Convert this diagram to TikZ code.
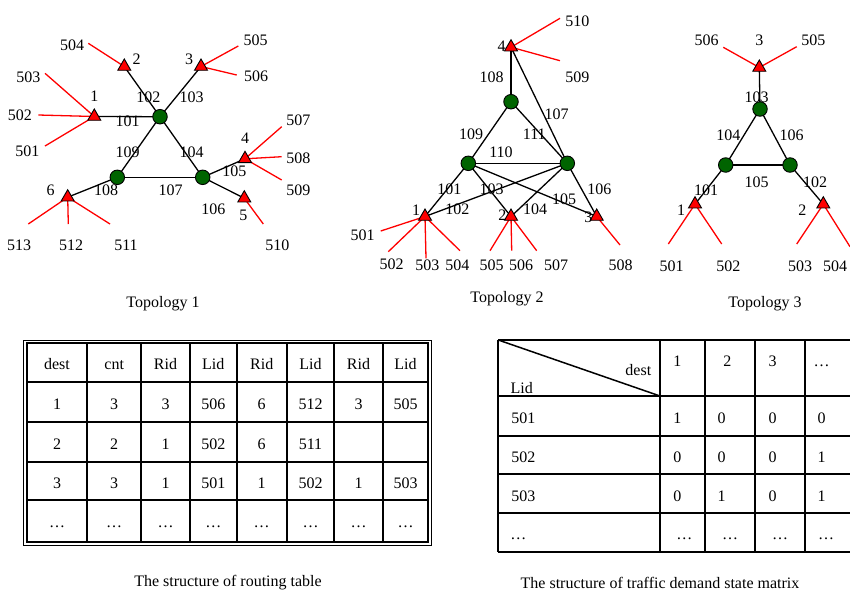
\documentclass[tikz,border=0pt]{standalone}
\usepackage{fontspec}
\setmainfont{Liberation Serif}
\usetikzlibrary{shapes.geometric,backgrounds}
\definecolor{routergreen}{RGB}{0,100,0}
\newcommand{\labfont}{\fontsize{16}{19}\selectfont}
\pgfdeclarelayer{paper}
\pgfsetlayers{paper,background,main}

\begin{document}
\begin{tikzpicture}[x=1pt,y=-1pt,
  host/.style={regular polygon, regular polygon sides=3, draw=black, fill=red,
    minimum size=15, inner sep=0, line width=0.9},
  router/.style={circle, draw=black, fill=routergreen, minimum size=14.5,
    inner sep=0, line width=0.9},
  link/.style={line width=1.3, black},
  access/.style={line width=1.3, red},
  lab/.style={font=\labfont, inner sep=0},
  cell/.style={font=\labfont, inner sep=0, anchor=base},
  gridline/.style={line width=1.8},
]
\clip (0,0) rectangle (850,595);
\begin{pgfonlayer}{paper}
  \fill[white] (0,0) rectangle (850,595);
\end{pgfonlayer}

% ---------------- Topology 1 ----------------
\node[router] (a1) at (160,116.7) {};
\node[router] (b1) at (117.3,177.3) {};
\node[router] (c1) at (202.7,177.3) {};
\node[host] (h11) at (94.3,116.5) {};
\node[host] (h12) at (124.3,66.5) {};
\node[host] (h13) at (201,66.5) {};
\node[host] (h14) at (245,158.8) {};
\node[host] (h15) at (244.3,198.2) {};
\node[host] (h16) at (67.7,197.2) {};

\coordinate (e1-504) at (88.3,43.3);
\coordinate (e1-503) at (45,73.3);
\coordinate (e1-502) at (38.3,115);
\coordinate (e1-501) at (45,146);
\coordinate (e1-505) at (238.3,46);
\coordinate (e1-506) at (236.7,75);
\coordinate (e1-507) at (281.7,126.7);
\coordinate (e1-508) at (281.7,156.7);
\coordinate (e1-509) at (281.7,180);
\coordinate (e1-510) at (263.3,224);
\coordinate (e1-513) at (28.3,224);
\coordinate (e1-512) at (68.3,224);
\coordinate (e1-511) at (110,224);

\begin{scope}[on background layer]
  \draw[link] (h11.center) -- (a1.center);
  \draw[link] (a1.center) -- (h12.center);
  \draw[link] (a1.center) -- (h13.center);
  \draw[link] (a1.center) -- (c1.center);
  \draw[link] (c1.center) -- (h14.center);
  \draw[link] (c1.center) -- (h15.center);
  \draw[link] (b1.center) -- (c1.center);
  \draw[link] (b1.center) -- (h16.center);
  \draw[link] (a1.center) -- (b1.center);
  \draw[access] (h12.center) -- (e1-504);
  \draw[access] (h11.center) -- (e1-503);
  \draw[access] (h11.center) -- (e1-502);
  \draw[access] (h11.center) -- (e1-501);
  \draw[access] (h13.center) -- (e1-505);
  \draw[access] (h13.center) -- (e1-506);
  \draw[access] (h14.center) -- (e1-507);
  \draw[access] (h14.center) -- (e1-508);
  \draw[access] (h14.center) -- (e1-509);
  \draw[access] (h15.center) -- (e1-510);
  \draw[access] (h16.center) -- (e1-513);
  \draw[access] (h16.center) -- (e1-512);
  \draw[access] (h16.center) -- (e1-511);
\end{scope}

\node[lab] (l1-504) at (72,45) {504};
\node[lab] (l1-503) at (28.3,77.3) {503};
\node[lab] (l1-502) at (20,115.7) {502};
\node[lab] (l1-501) at (27.3,151.7) {501};
\node[lab] (l1-505) at (255.7,40) {505};
\node[lab] (l1-506) at (256,76.7) {506};
\node[lab] (l1-507) at (298.3,120) {507};
\node[lab] (l1-508) at (298.3,158.3) {508};
\node[lab] (l1-509) at (298.3,190) {509};
\node[lab] (l1-510) at (277.3,245.7) {510};
\node[lab] (l1-513) at (19,245.7) {513};
\node[lab] (l1-512) at (71,245.7) {512};
\node[lab] (l1-511) at (126,245.7) {511};

\node[lab] (n1-2) at (136.7,59.3) {2};
\node[lab] (n1-3) at (189,59.3) {3};
\node[lab] (n1-1) at (94.3,96.7) {1};
\node[lab] (n1-4) at (245,138.3) {4};
\node[lab] (n1-5) at (243.3,215) {5};
\node[lab] (n1-6) at (50.7,190) {6};

\node[lab] (k1-101) at (127.7,121.7) {101};
\node[lab] (k1-102) at (148.3,97.3) {102};
\node[lab] (k1-103) at (191.7,97.3) {103};
\node[lab] (k1-109) at (127.7,152.7) {109};
\node[lab] (k1-104) at (191.7,152.7) {104};
\node[lab] (k1-105) at (234.3,171.7) {105};
\node[lab] (k1-107) at (170.7,190) {107};
\node[lab] (k1-108) at (106,190) {108};
\node[lab] (k1-106) at (213.3,209.3) {106};

\node[lab] (cap1) at (163,304) {Topology 1};

% ---------------- Topology 2 ----------------
\node[router] (g21) at (511,101.7) {};
\node[router] (g22) at (468.3,163.3) {};
\node[router] (g23) at (567.3,163.3) {};
\node[host] (h24) at (511,47.2) {};
\node[host] (h21) at (425,216.5) {};
\node[host] (h22) at (511,216.5) {};
\node[host] (h23) at (596.7,216.5) {};

\coordinate (e2-510) at (560,18.3);
\coordinate (e2-509) at (560,60.7);
\coordinate (e2-501) at (380.7,231);
\coordinate (e2-502) at (388.3,251.7);
\coordinate (e2-503) at (426,258.3);
\coordinate (e2-504) at (460,250.7);
\coordinate (e2-505) at (490,250.7);
\coordinate (e2-506) at (511.7,250.7);
\coordinate (e2-507) at (536.7,250.7);
\coordinate (e2-508) at (620,245);

\begin{scope}[on background layer]
  \draw[link] (h24.center) -- (g21.center);
  \draw[link] (h24.center) -- (g23.center);
  \draw[link] (g21.center) -- (g22.center);
  \draw[link] (g21.center) -- (g23.center);
  \draw[link] (g22.center) -- (g23.center);
  \draw[link] (g22.center) -- (h21.center);
  \draw[link] (g23.center) -- (h21.center);
  \draw[link] (g22.center) -- (h22.center);
  \draw[link] (g23.center) -- (h22.center);
  \draw[link] (g22.center) -- (h23.center);
  \draw[link] (g23.center) -- (h23.center);
  \draw[access] (h24.center) -- (e2-510);
  \draw[access] (h24.center) -- (e2-509);
  \draw[access] (h21.center) -- (e2-501);
  \draw[access] (h21.center) -- (e2-502);
  \draw[access] (h21.center) -- (e2-503);
  \draw[access] (h21.center) -- (e2-504);
  \draw[access] (h22.center) -- (e2-505);
  \draw[access] (h22.center) -- (e2-506);
  \draw[access] (h22.center) -- (e2-507);
  \draw[access] (h23.center) -- (e2-508);
\end{scope}

\node[lab] (l2-510) at (577.3,21.7) {510};
\node[lab] (l2-509) at (577.3,77.3) {509};
\node[lab] (l2-501) at (362.7,235) {501};
\node[lab] (l2-502) at (391.7,264.3) {502};
\node[lab] (l2-503) at (427.3,265) {503};
\node[lab] (l2-504) at (457.3,265) {504};
\node[lab] (l2-505) at (491.7,265) {505};
\node[lab] (l2-506) at (521,265) {506};
\node[lab] (l2-507) at (556,265) {507};
\node[lab] (l2-508) at (620.7,265) {508};

\node[lab] (n2-4) at (501.7,46.7) {4};
\node[lab] (n2-1) at (416,210.7) {1};
\node[lab] (n2-2) at (502.3,215) {2};
\node[lab] (n2-3) at (588.3,217) {3};

\node[lab] (k2-108) at (491.7,77.3) {108};
\node[lab] (k2-107) at (556.7,114) {107};
\node[lab] (k2-109) at (471,134) {109};
\node[lab] (k2-111) at (534.3,134) {111};
\node[lab] (k2-110) at (501,152.3) {110};
\node[lab] (k2-101) at (449.3,189.3) {101};
\node[lab] (k2-102) at (457.3,209.3) {102};
\node[lab] (k2-103) at (491.7,189.3) {103};
\node[lab] (k2-104) at (535,209.3) {104};
\node[lab] (k2-105) at (564,199.3) {105};
\node[lab] (k2-106) at (599.3,189.3) {106};

\node[lab] (cap2) at (507,299) {Topology 2};

% ---------------- Topology 3 ----------------
\node[router] (g31) at (760,109) {};
\node[router] (g32) at (725.7,165) {};
\node[router] (g33) at (790,165) {};
\node[host] (h33) at (759.3,67.5) {};
\node[host] (h31) at (695,204.2) {};
\node[host] (h32) at (823.3,204.2) {};

\coordinate (e3-506) at (723.3,47.3);
\coordinate (e3-505) at (796.7,46.7);
\coordinate (e3-501) at (668.3,244);
\coordinate (e3-502) at (721.7,244);
\coordinate (e3-503) at (796.7,244);
\coordinate (e3-504) at (850,246.7);

\begin{scope}[on background layer]
  \draw[link] (h33.center) -- (g31.center);
  \draw[link] (g31.center) -- (g32.center);
  \draw[link] (g31.center) -- (g33.center);
  \draw[link] (g32.center) -- (g33.center);
  \draw[link] (g32.center) -- (h31.center);
  \draw[link] (g33.center) -- (h32.center);
  \draw[access] (h33.center) -- (e3-506);
  \draw[access] (h33.center) -- (e3-505);
  \draw[access] (h31.center) -- (e3-501);
  \draw[access] (h31.center) -- (e3-502);
  \draw[access] (h32.center) -- (e3-503);
  \draw[access] (h32.center) -- (e3-504);
\end{scope}

\node[lab] (l3-506) at (706.7,40.7) {506};
\node[lab] (l3-505) at (813.3,40.7) {505};
\node[lab] (l3-501) at (671.7,266) {501};
\node[lab] (l3-502) at (728.3,266) {502};
\node[lab] (l3-503) at (800,266) {503};
\node[lab] (l3-504) at (835,266) {504};

\node[lab] (n3-3) at (759.3,40.7) {3};
\node[lab] (n3-1) at (681,210) {1};
\node[lab] (n3-2) at (802.3,210) {2};

\node[lab] (k3-103) at (756.7,97.3) {103};
\node[lab] (k3-104) at (728.3,135) {104};
\node[lab] (k3-106) at (791.7,135) {106};
\node[lab] (k3-105) at (756.7,182.3) {105};
\node[lab] (k3-101) at (706,190.7) {101};
\node[lab] (k3-102) at (815,182.3) {102};

\node[lab] (cap3) at (765,304) {Topology 3};

% ---------------- Routing table ----------------
\draw[line width=1] (23.3,340) rectangle (431.7,545);
\draw[gridline] (26.7,343.3) rectangle (428.3,541.7);
\foreach \x in {87.3,141,190,236.7,286.7,334.3,382.7}
  \draw[gridline] (\x,343.3) -- (\x,541.7);
\foreach \y in {382.3,421.7,461.7,500}
  \draw[gridline] (26.7,\y) -- (428.3,\y);

\foreach \t/\x [count=\c] in {dest/57,cnt/114.2,Rid/165.5,Lid/213.3,Rid/261.7,Lid/310.5,Rid/358.5,Lid/405.5}
  \node[cell] (rt-0-\c) at (\x,369.8) {\t};
\foreach \t/\x [count=\c] in {1/57,3/114.2,3/165.5,506/213.3,6/261.7,512/310.5,3/358.5,505/405.5}
  \node[cell] (rt-1-\c) at (\x,409.5) {\t};
\foreach \t/\x [count=\c] in {2/57,2/114.2,1/165.5,502/213.3,6/261.7,511/310.5}
  \node[cell] (rt-2-\c) at (\x,449.2) {\t};
\foreach \t/\x [count=\c] in {3/57,3/114.2,1/165.5,501/213.3,1/261.7,502/310.5,1/358.5,503/405.5}
  \node[cell] (rt-3-\c) at (\x,488.3) {\t};
\foreach \x [count=\c] in {57,114.2,165.5,213.3,261.7,310.5,358.5,405.5}
  \node[cell] (rt-4-\c) at (\x,527.8) {…};

\node[lab] (cap4) at (228,583) {The structure of routing table};

% ---------------- Traffic demand state matrix ----------------
\draw[gridline] (498.3,340) -- (870,340);
\draw[gridline] (498.3,551.7) -- (870,551.7);
\draw[gridline] (498.3,340) -- (498.3,551.7);
\foreach \x in {660,705,755,805}
  \draw[gridline] (\x,340) -- (\x,551.7);
\foreach \y in {396,436,474.3,513.3}
  \draw[gridline] (498.3,\y) -- (870,\y);
\draw[line width=1.5] (498.3,340) -- (660,396);

\node[cell] (tm-dest) at (638.3,375.5) {dest};
\node[cell] (tm-lid) at (521.7,393.5) {Lid};
\foreach \t/\x [count=\c] in {1/677.3,2/727.3,3/772.7,…/821.7}
  \node[cell] (tm-0-\c) at (\x,366) {\t};
\foreach \t/\x [count=\c] in {501/523.3,1/677.3,0/721.7,0/772.7,0/821.7}
  \node[cell] (tm-1-\c) at (\x,423) {\t};
\foreach \t/\x [count=\c] in {502/523.3,0/677.3,0/721.7,0/772.7,1/821.7}
  \node[cell] (tm-2-\c) at (\x,462) {\t};
\foreach \t/\x [count=\c] in {503/523.3,0/677.3,1/721.7,0/772.7,1/821.7}
  \node[cell] (tm-3-\c) at (\x,501) {\t};
\foreach \x [count=\c] in {518.3,684.3,730,780,826}
  \node[cell] (tm-4-\c) at (\x,539.5) {…};

\node[lab] (cap5) at (660,583) {The structure of traffic demand state matrix};
\end{tikzpicture}
\end{document}
